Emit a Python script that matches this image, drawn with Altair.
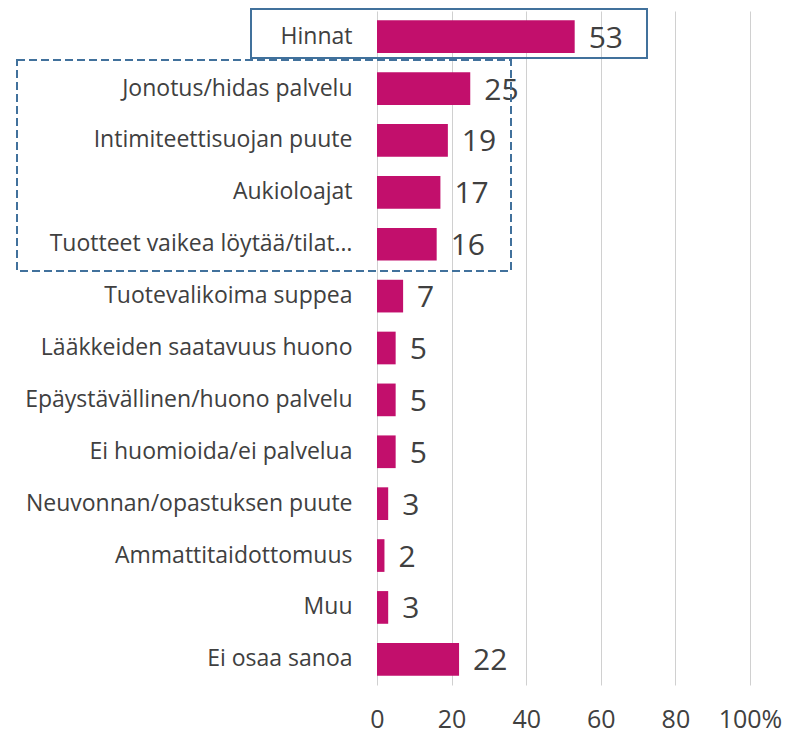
import altair as alt
import pandas as pd

categories = [
    "Hinnat",
    "Jonotus/hidas palvelu",
    "Intimiteettisuojan puute",
    "Aukioloajat",
    "Tuotteet vaikea löytää/tilat…",
    "Tuotevalikoima suppea",
    "Lääkkeiden saatavuus huono",
    "Epäystävällinen/huono palvelu",
    "Ei huomioida/ei palvelua",
    "Neuvonnan/opastuksen puute",
    "Ammattitaidottomuus",
    "Muu",
    "Ei osaa sanoa",
]
values = [53, 25, 19, 17, 16, 7, 5, 5, 5, 3, 2, 3, 22]
x_ticks = [0, 20, 40, 60, 80, 100]

df = pd.DataFrame({"cat": categories, "val": values})

FONT = "Open Sans"
TXT = "#404040"

y_enc = alt.Y(
    "cat:N",
    sort=categories,
    scale=alt.Scale(paddingInner=0.37, paddingOuter=0.18),
    axis=alt.Axis(
        title=None, ticks=False, domain=False, grid=False,
        labelPadding=25, labelFontSize=23, labelFont=FONT, labelColor=TXT,
        labelLimit=400,
    ),
)
x_enc = alt.X(
    "val:Q",
    scale=alt.Scale(domain=[0, 100], nice=False),
    axis=alt.Axis(
        title=None, values=x_ticks, ticks=False, domain=False,
        grid=True, gridColor="#D0D0D0", gridWidth=1,
        labelPadding=22, labelFontSize=25, labelFont=FONT, labelColor=TXT,
        labelExpr="datum.value == 100 ? '100%' : datum.label",
        labelFlush=False,
    ),
)

base = alt.Chart(df)
bars = base.mark_bar(color="#C20F6C").encode(x=x_enc, y=y_enc)
labels = base.mark_text(
    align="left", baseline="middle", dx=14, dy=2, fontSize=30, font=FONT, color=TXT
).encode(x="val:Q", y=alt.Y("cat:N", sort=categories), text="val:Q")

box_solid = alt.Chart(pd.DataFrame({"a": [0]})).mark_rect(
    fill=None, stroke="#41719C", strokeWidth=2
).encode(x=alt.value(-126), x2=alt.value(270), y=alt.value(-2), y2=alt.value(47))

box_dash = alt.Chart(pd.DataFrame({"a": [0]})).mark_rect(
    fill=None, stroke="#41719C", strokeWidth=2, strokeDash=[8, 4]
).encode(x=alt.value(-360), x2=alt.value(134), y=alt.value(49), y2=alt.value(260))

chart = (
    alt.layer(bars, labels, box_dash, box_solid)
    .properties(
        width=373, height=674,
        autosize=alt.AutoSizeParams(type="none"),
        padding={"left": 369, "top": 3, "right": 37, "bottom": 50},
    )
    .configure_view(stroke=None)
)

chart.save("out.html", embed_options={"renderer": "svg", "actions": False})
